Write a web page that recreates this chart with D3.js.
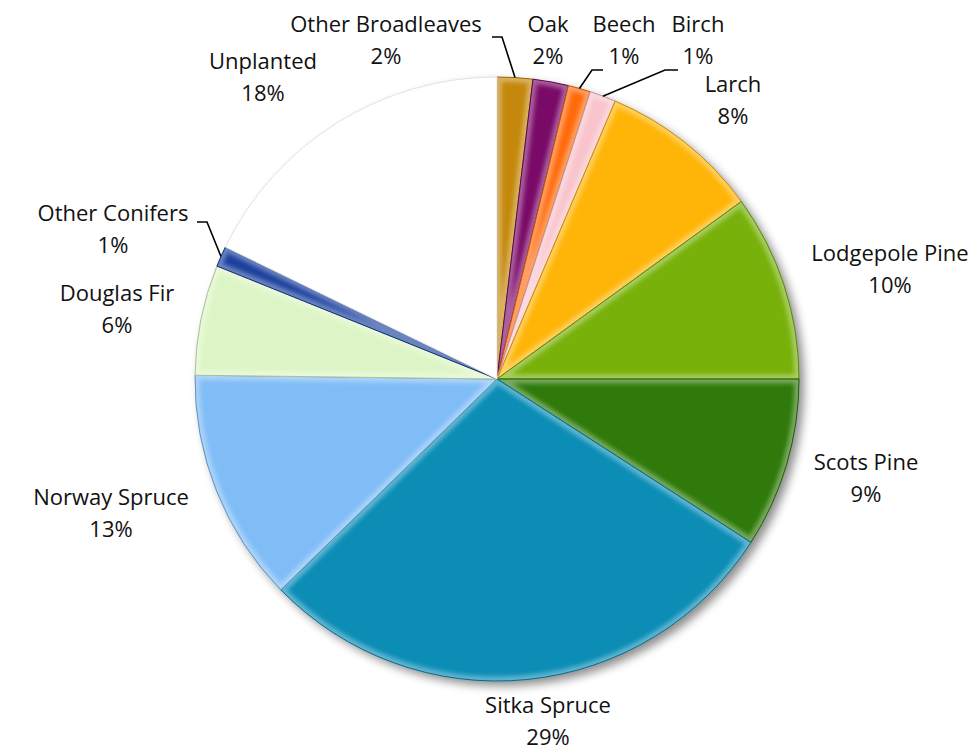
<!DOCTYPE html>
<html>
<head>
<meta charset="utf-8">
<script src="https://cdn.jsdelivr.net/npm/d3@7"></script>
<style>
  html, body { margin: 0; padding: 0; background: #fff; }
  svg text { font-family: "Open Sans", Lato, sans-serif; font-size: 22px; fill: #111; }
</style>
</head>
<body>
<svg id="chart" width="979" height="749"></svg>
<script>
// data, clockwise from 12 o'clock
const categories = ['Other Broadleaves', 'Oak', 'Beech', 'Birch', 'Larch', 'Lodgepole Pine',
  'Scots Pine', 'Sitka Spruce', 'Norway Spruce', 'Douglas Fir', 'Other Conifers', 'Unplanted'];
const values = [1.9, 1.9, 1.2, 1.4, 8.6, 10.0, 9.1, 28.6, 12.5, 5.9, 1.1, 17.8];
const pctLabels = ['2%', '2%', '1%', '1%', '8%', '10%', '9%', '29%', '13%', '6%', '1%', '18%'];
const colors = ['#C4880C', '#7A0A68', '#FF6A0A', '#F9C4CC', '#FFB508', '#78B10A',
  '#2F7A0A', '#0C8DB6', '#80BDF6', '#DDF5C6', '#1C419E', '#FFFFFF'];

// label layout (centre x, first baseline y) and elbows of the leader lines
const labelPos = {
  'Other Broadleaves': [386, 32], 'Oak': [548, 32], 'Beech': [624, 32], 'Birch': [698, 32],
  'Larch': [733, 92], 'Lodgepole Pine': [890, 261], 'Scots Pine': [866, 470],
  'Sitka Spruce': [548, 713], 'Norway Spruce': [111, 505], 'Douglas Fir': [117, 301],
  'Other Conifers': [113, 221], 'Unplanted': [263, 69]
};
const leaders = {
  'Other Broadleaves': [[492, 37], [502, 37]],
  'Beech': [[603, 70], [592, 70]],
  'Birch': [[678, 70], [665, 70]],
  'Other Conifers': [[197, 222], [207, 222]]
};

const cx = 497, cy = 379, r = 302;
const svg = d3.select('#chart');
const defs = svg.append('defs');

// soft shadow behind the pie
const sh = defs.append('filter').attr('id', 'shadow')
  .attr('x', '-10%').attr('y', '-10%').attr('width', '120%').attr('height', '120%');
sh.append('feGaussianBlur').attr('in', 'SourceAlpha').attr('stdDeviation', 5).attr('result', 'b');
sh.append('feOffset').attr('in', 'b').attr('dx', 5).attr('dy', 5).attr('result', 'o');
sh.append('feComponentTransfer').attr('in', 'o')
  .append('feFuncA').attr('type', 'linear').attr('slope', 0.45);

// blur used for the soft inner rim of each slice
defs.append('filter').attr('id', 'soft')
  .append('feGaussianBlur').attr('stdDeviation', 2.2);

const rows = categories.map((c, i) => ({ name: c, value: values[i], pct: pctLabels[i], color: colors[i] }));
const pie = d3.pie().sort(null).value(d => d.value);
const arcs = pie(rows);
const arc = d3.arc().innerRadius(0).outerRadius(r);
const rim = d3.arc().innerRadius(r).outerRadius(r);

const g = svg.append('g').attr('transform', `translate(${cx},${cy})`);

g.append('circle').attr('r', r).attr('fill', '#fff').attr('filter', 'url(#shadow)');

arcs.forEach((d, i) => {
  defs.append('clipPath').attr('id', 'clip' + i)
    .append('path').attr('d', arc(d));
});

const slice = g.selectAll('g.slice')
  .data(arcs)
  .enter()
  .append('g')
  .attr('class', 'slice');

slice.append('path')
  .attr('d', arc)
  .attr('fill', d => d.data.color);

// light bevel along the edges
slice.append('path')
  .attr('d', arc)
  .attr('fill', 'none')
  .attr('clip-path', (d, i) => `url(#clip${i})`)
  .attr('stroke', d => d.data.name === 'Unplanted' ? '#fff' : d3.interpolateRgb(d.data.color, '#fff')(0.35))
  .attr('stroke-width', 9)
  .attr('filter', 'url(#soft)');

// darker outline
slice.append('path')
  .attr('d', arc)
  .attr('fill', 'none')
  .attr('stroke', d => d.data.name === 'Unplanted' ? '#e2e2e2' : d3.color(d.data.color).darker(0.7))
  .attr('stroke-width', 1);

// leader lines
arcs.filter(d => leaders[d.data.name]).forEach(d => {
  const end = rim.centroid(d);
  const pts = leaders[d.data.name].concat([[end[0] + cx, end[1] + cy]]);
  svg.append('path')
    .attr('d', d3.line()(pts))
    .attr('fill', 'none')
    .attr('stroke', '#000')
    .attr('stroke-width', 1.6);
});

// labels
const lab = svg.selectAll('text.lab')
  .data(rows)
  .enter()
  .append('text')
  .attr('class', 'lab')
  .attr('text-anchor', 'middle')
  .attr('x', d => labelPos[d.name][0])
  .attr('y', d => labelPos[d.name][1]);
lab.append('tspan').attr('x', d => labelPos[d.name][0]).text(d => d.name);
lab.append('tspan').attr('x', d => labelPos[d.name][0]).attr('dy', 31.5).text(d => d.pct);
</script>
</body>
</html>
